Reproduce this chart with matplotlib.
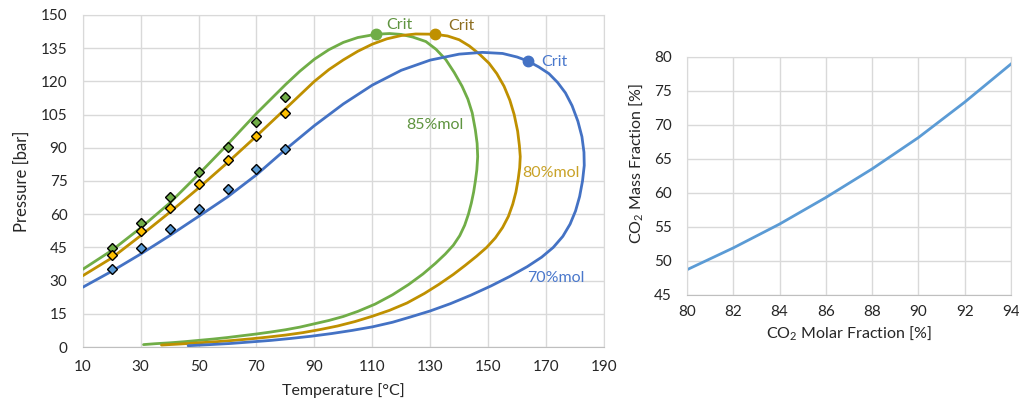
import matplotlib.pyplot as plt

plt.rcParams['font.family'] = ['Lato', 'DejaVu Sans']
plt.rcParams['mathtext.fontset'] = 'custom'
plt.rcParams['mathtext.rm'] = 'Lato'
plt.rcParams['mathtext.it'] = 'Lato:italic'

# measured points (diamonds)
meas_t = [20, 30, 40, 50, 60, 70, 80]
meas_85 = [44.6, 56.2, 67.6, 79.0, 90.4, 101.8, 113.0]
meas_80 = [41.4, 52.3, 62.9, 73.6, 84.3, 95.2, 105.9]
meas_70 = [35.4, 44.6, 53.5, 62.3, 71.2, 80.4, 89.3]

# phase envelopes (bubble side -> crit -> dew side)
env85_t = [10, 20, 30, 40, 50, 60, 70, 80, 85, 90, 95, 100, 105, 111.4, 116, 120, 124, 128.5,
           132, 135.4, 138.3, 141, 143, 144.5, 145.6, 146.2, 146.4, 146.1, 145.6, 145, 144.2,
           143.2, 141.9, 140.2, 138, 135.2, 131.8, 127.5, 122.5, 117, 111, 105, 100, 95, 90, 85,
           80, 75, 70, 65, 60, 55, 50, 45, 40, 35, 31]
env85_p = [35.1, 43.6, 53.8, 65.0, 78.0, 91.5, 105.5, 118.5, 124.6, 130.0, 134.3, 137.6, 139.8,
           141.3, 141.6, 141.2, 140.0, 138.0, 134.5, 129.8, 124.0, 117.8, 112.0, 105.8, 98.0,
           92.0, 86.0, 80.0, 75.0, 70.0, 65.0, 60.0, 55.0, 50.3, 46.0, 42.0, 37.8, 33.0, 28.2,
           23.6, 19.4, 16.1, 13.8, 12.0, 10.5, 9.0, 7.8, 6.8, 5.9, 5.1, 4.3, 3.6, 3.0, 2.4, 1.9,
           1.5, 1.1]

env80_t = [10, 20, 30, 40, 50, 60, 70, 80, 85, 90, 95, 100, 105, 110, 115, 120, 125, 131.5,
           136, 140, 143.5, 147, 150.3, 153, 155.5, 157.5, 159, 160.2, 160.8, 161.1, 160.9,
           160.4, 159.6, 158.5, 157, 155, 152.5, 149.5, 146, 142, 138, 133, 128, 122, 116,
           110, 104, 98, 92, 86, 80, 74, 68, 62, 56, 50, 44, 37.2]
env80_p = [32.2, 40.2, 50.3, 60.8, 71.8, 83.3, 95.3, 107.6, 113.8, 120.0, 125.3, 129.7, 133.6,
           136.8, 139.2, 140.7, 141.4, 141.3, 140.5, 138.8, 136.0, 132.3, 128.2, 123.5, 117.8,
           111.5, 105.0, 97.5, 91.0, 86.0, 81.0, 76.0, 70.0, 64.5, 59.0, 54.0, 49.3, 45.0, 41.0,
           36.8, 32.8, 28.3, 24.2, 19.9, 16.6, 13.9, 11.5, 9.5, 7.9, 6.5, 5.4, 4.5, 3.7, 3.0,
           2.4, 1.9, 1.4, 0.9]

env70_t = [10, 20, 30, 40, 50, 60, 70, 80, 90, 100, 110, 120, 130, 140, 148, 155, 160, 163.7,
           167.5, 171, 174, 176.7, 179, 181, 182.4, 183.1, 183.2, 182.6, 181.6, 180.2, 178.3,
           175.8, 172.5, 168.5, 163.5, 157.5, 151, 144, 137, 130, 123, 117, 110, 103, 96, 89,
           82, 75, 68, 61, 54, 46.4]
env70_p = [27.0, 34.2, 42.0, 50.3, 59.0, 67.8, 77.8, 89.2, 100.0, 109.8, 118.3, 125.0, 129.6,
           132.3, 133.1, 132.6, 131.0, 129.2, 126.5, 123.5, 119.5, 114.8, 109.0, 102.0, 95.0,
           88.0, 82.0, 75.0, 68.0, 61.5, 55.5, 50.0, 45.0, 40.6, 36.3, 31.9, 27.6, 23.4, 19.6,
           16.3, 13.5, 11.2, 9.1, 7.5, 6.1, 4.9, 3.9, 3.0, 2.3, 1.6, 1.1, 0.6]

crit_t = [111.4, 131.5, 163.7]
crit_p = [141.3, 141.3, 129.2]

# right chart
molar = [80, 82, 84, 86, 88, 90, 92, 94]
mass = [48.7, 51.9, 55.4, 59.3, 63.5, 68.1, 73.3, 78.9]

green, gold, blue = '#70AD47', '#BF9000', '#4472C4'
grid_c = '#D9D9D9'

fig = plt.figure(figsize=(10.2, 4.04), dpi=100)
ax = fig.add_axes([0.0811, 0.141, 0.5110, 0.822])
ax2 = fig.add_axes([0.6735, 0.270, 0.3176, 0.590])

for t, p, c in [(env85_t, env85_p, green), (env80_t, env80_p, gold), (env70_t, env70_p, blue)]:
    ax.plot(t, p, color=c, lw=2, solid_capstyle='round', solid_joinstyle='round', zorder=3)

for p, c in [(meas_85, '#70AD47'), (meas_80, '#FFC000'), (meas_70, '#5B9BD5')]:
    ax.plot(meas_t, p, ls='none', marker='D', ms=5.5, mfc=c, mec='black', mew=1, zorder=4)

for t, p, c in zip(crit_t, crit_p, [green, gold, blue]):
    ax.plot(t, p, 'o', color=c, ms=7.5, zorder=5)

ax.text(119.4, 145.5, 'Crit', color='#5f9440', fontsize=11.5, ha='center', va='center')
ax.text(140.7, 145.0, 'Crit', color='#8c6d1f', fontsize=11.5, ha='center', va='center')
ax.text(172.9, 128.8, 'Crit', color='#4a78cc', fontsize=11.5, ha='center', va='center')
ax.text(131.5, 100.3, '85%mol', color='#5f9440', fontsize=11.5, ha='center', va='center')
ax.text(171.7, 78.5, '80%mol', color='#c9a227', fontsize=11.5, ha='center', va='center')
ax.text(173.4, 31.0, '70%mol', color='#4a78cc', fontsize=11.5, ha='center', va='center')

ax.set_xlim(10, 190)
ax.set_ylim(0, 150)
ax.set_xticks(range(10, 191, 20))
ax.set_yticks(range(0, 151, 15))
ax.set_xlabel('Temperature [°C]', fontsize=11.5, labelpad=7)
ax.set_ylabel('Pressure [bar]', fontsize=12, labelpad=8)

ax2.plot(molar, mass, color='#5B9BD5', lw=2)
ax2.set_xlim(80, 94)
ax2.set_ylim(45, 80)
ax2.set_xticks(range(80, 95, 2))
ax2.set_yticks(range(45, 81, 5))
ax2.set_xlabel('CO$\\mathregular{_2}$ Molar Fraction [%]', fontsize=11.5)
ax2.set_ylabel('CO$\\mathregular{_2}$ Mass Fraction [%]', fontsize=11.5)

for a in (ax, ax2):
    a.grid(True, color=grid_c, lw=1)
    a.set_axisbelow(True)
    for s in a.spines.values():
        s.set_color(grid_c)
    a.spines['bottom'].set_color('#BFBFBF')
    a.tick_params(length=0, labelsize=11, colors='#262626')
    a.xaxis.label.set_color('#262626')
    a.yaxis.label.set_color('#262626')
ax.tick_params(axis='y', pad=11)
ax.tick_params(axis='x', pad=9)
ax2.tick_params(axis='y', pad=11)
ax2.tick_params(axis='x', pad=7)
ax2.yaxis.set_label_coords(-0.13, 0.55)

fig.savefig('out.png', dpi=100)
